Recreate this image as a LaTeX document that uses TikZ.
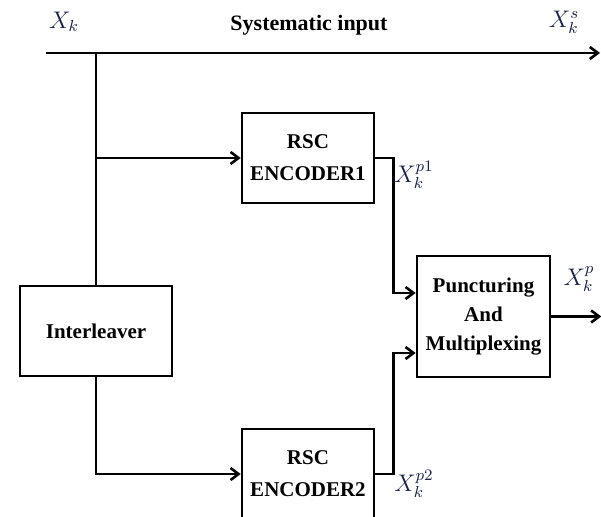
\documentclass[tikz,border=0pt]{standalone}
\usepackage{fontspec}
\setmainfont{Liberation Serif}
\usepackage{xcolor}
\usetikzlibrary{arrows.meta,positioning}
\definecolor{labelnavy}{RGB}{25,35,70}

\begin{document}
\begin{tikzpicture}[
    x=0.5pt, y=-0.5pt,
    >={Straight Barb[length=4pt,width=6pt]},
    block/.style={draw, line width=1.3pt, align=center, inner sep=2pt, font=\bfseries\fontsize{10.5}{16}\selectfont},
    encblock/.style={block, minimum width=66pt, minimum height=45pt},
    title/.style={font=\bfseries\fontsize{11}{13}\selectfont},
    sig/.style={text=labelnavy, font=\fontsize{11.5}{13}\selectfont},
    line/.style={->, line width=1.3pt},
    wire/.style={line width=1.3pt}
]
\useasboundingbox (0,0) rectangle (601,517);

% Blocks of the turbo encoder.
\node[encblock] (enc1) at (308,158) {RSC\\ENCODER1};
\node[encblock] (enc2) at (308,474) {RSC\\ENCODER2};
\node[block, minimum width=76pt, minimum height=45pt] (ilv) at (96,331) {Interleaver};
\node[block, minimum width=66.5pt, minimum height=60.5pt, font=\bfseries\fontsize{10.5}{14.5}\selectfont] (punct) at (483.5,316.5) {Puncturing\\And\\Multiplexing};

% Systematic path and its labels.
\coordinate (in) at (46,53);
\coordinate (split) at (96,53);
\coordinate (sysout) at (600,53);
\node[sig] (xk) at (64,22) {$X_k$};
\node[title] (systxt) at (309,25) {Systematic input};
\node[sig] (xks) at (564,22) {$X_k^{s}$};

% Parity labels.
\node[sig] (xkp1) at (414,175) {$X_k^{p1}$};
\node[sig] (xkp2) at (414,484) {$X_k^{p2}$};
\node[sig] (xkp) at (579,279) {$X_k^{p}$};

% Inputs of the multiplexer.
\coordinate (pin1) at ([yshift=11.75pt]punct.west);
\coordinate (pin2) at ([yshift=-18.25pt]punct.west);

% Connectors.
\draw[line] (in) -- (sysout);
\draw[wire] (split) -- (ilv.north);
\draw[line] (split |- enc1.west) -- (enc1.west);
\draw[line] (ilv.south) |- (enc2.west);
\draw[line] (enc1.east) -- ++(18,0) |- (pin1);
\draw[line] (enc2.east) -- ++(18,0) |- (pin2);
\draw[line] (punct.east) -- ++(50,0);

\end{tikzpicture}
\end{document}
